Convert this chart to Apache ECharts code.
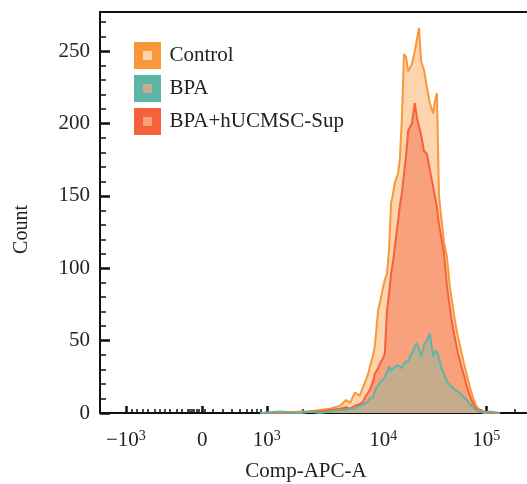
<!DOCTYPE html>
<html><head><meta charset="utf-8">
<script src="https://cdn.jsdelivr.net/npm/echarts@6/dist/echarts.min.js"></script>
<style>html,body{margin:0;padding:0;background:#fff}#c{width:527px;height:484px}</style>
</head><body><div id="c"></div>
<script>
// x positions are display channels (0-1024) of the biexponential Comp-APC-A scale
const channels = [384,432,480,504,528,552,576,590,600,611,623,631,638,643,647,655,659,667,671,679,683,688,693,698,703,707,715,719,724,729,734,739,743,748,755,760,765,770,777,784,791,799,803,808,813,818,825,832,839,844,851,858,866,873,880,887,894,902,911,923,935,959];
const controlCounts = [0,0,1,1,2,3,5,9,7,14,12,18,23,27,32,40,46,71,76,87,92,96,112,145,152,159,166,175,204,248,246,236,235,241,250,258,266,243,237,225,214,207,215,221,150,136,118,108,87,78,64,53,43,34,26,18,11,5,2,1,0,0];
const bpaCounts = [0,1,0,1,0,1,2,2,3,3,5,6,7,8,10,11,15,19,21,23,25,28,32,29,31,30,33,32,31,34,36,35,39,41,46,48,44,39,47,50,55,39,43,42,38,32,27,22,19,18,16,15,13,11,9,6,4,2,1,0,1,0];
const bpaSupCounts = [0,0,0,1,1,2,3,4,3,5,6,8,12,14,16,22,27,31,34,38,41,70,82,96,105,115,133,143,152,165,178,195,196,200,214,204,198,192,181,179,168,156,150,142,130,122,110,88,73,63,52,42,33,26,18,12,7,3,1,0,0,0];
const seriesNames = ['Control','BPA','BPA+hUCMSC-Sup'];
const xMajorTicks = [62,245,400,679,926];
const xTickBase = ['\u221210','0','10','10','10'];
const xTickExp = ['3','','3','4','5'];
const xMinorTicks = [77,89,103,115,132,144,156,168,185,197,211,216,221,226,231,236,252,271,295,317,336,352,364,376,386,487,544,578,607,628,643,657,667,753,796,827,851,870,887,902,914,995];
const yMajorTicks = [0,50,100,150,200,250];
const yMinorTicks = [10,20,30,40,60,70,80,90,110,120,130,140,160,170,180,190,210,220,230,240,260,270];

const FONT = 'Liberation Serif';
const lineColors = {'Control':'#F7993B','BPA':'#5DB5A6','BPA+hUCMSC-Sup':'#F5613B'};
const fillColors = {'Control':'#FDD4AE','BPA':'#C4AC8D','BPA+hUCMSC-Sup':'#F9A07C'};
const countsByName = {'Control':controlCounts,'BPA':bpaCounts,'BPA+hUCMSC-Sup':bpaSupCounts};
const drawOrder = ['Control','BPA+hUCMSC-Sup','BPA'];

const chart = echarts.init(document.getElementById('c'), null, {renderer:'canvas'});
const axisCol = '#111';
const X = {min:0,max:1024,type:'value',splitLine:{show:false}};
const Y = {min:0,max:277,type:'value',splitLine:{show:false}};
chart.setOption({
  animation:false,
  backgroundColor:'#fff',
  grid:{left:100,top:12,right:0,bottom:71,containLabel:false,outerBoundsMode:'none'},
  legend:{
    left:134, top:42, orient:'vertical', padding:0,
    itemWidth:18, itemHeight:18, itemGap:6,
    textStyle:{fontFamily:FONT,fontSize:21,color:'#222',lineHeight:18,padding:[0,0,0,8]},
    data:seriesNames.map(n=>({name:n,icon:'rect',itemStyle:{color:fillColors[n],borderColor:lineColors[n],borderWidth:9}}))
  },
  xAxis:[
    Object.assign({},X,{position:'bottom',name:'Comp-APC-A',nameLocation:'middle',nameGap:48,
      nameTextStyle:{fontFamily:FONT,fontSize:21,color:'#222',padding:[0,15,0,0]},
      axisLine:{show:true,onZero:false,lineStyle:{color:axisCol,width:2}},
      axisTick:{show:true,inside:true,length:7,lineStyle:{color:axisCol,width:2.5},customValues:xMajorTicks},
      axisLabel:{show:true,margin:16,customValues:xMajorTicks,
        formatter:function(v){const i=xMajorTicks.indexOf(v); if(i<0) return ''; return xTickExp[i]?'{b|'+xTickBase[i]+'}{s|'+xTickExp[i]+'}':'{b|'+xTickBase[i]+'}';},
        rich:{b:{fontFamily:FONT,fontSize:21,color:'#222',lineHeight:22,verticalAlign:'bottom'},
              s:{fontFamily:FONT,fontSize:14,color:'#222',lineHeight:14,verticalAlign:'top'}}}}),
    Object.assign({},X,{position:'bottom',axisLine:{show:false,onZero:false},
      axisTick:{show:true,inside:true,length:4,lineStyle:{color:axisCol,width:1.5},customValues:xMinorTicks},
      axisLabel:{show:false}}),
    Object.assign({},X,{position:'top',axisLine:{show:true,onZero:false,lineStyle:{color:axisCol,width:2}},
      axisTick:{show:false},axisLabel:{show:false}})
  ],
  yAxis:[
    Object.assign({},Y,{position:'left',name:'Count',nameLocation:'middle',nameGap:68,
      nameTextStyle:{fontFamily:FONT,fontSize:20,color:'#222',padding:[0,34,0,0]},
      axisLine:{show:true,onZero:false,lineStyle:{color:axisCol,width:2}},
      axisTick:{show:true,inside:true,length:10,lineStyle:{color:axisCol,width:2.5},customValues:yMajorTicks},
      axisLabel:{show:true,margin:10,customValues:yMajorTicks,fontFamily:FONT,fontSize:21,color:'#222'}}),
    Object.assign({},Y,{position:'left',axisLine:{show:false,onZero:false},
      axisTick:{show:true,inside:true,length:6,lineStyle:{color:axisCol,width:1.5},customValues:yMinorTicks},
      axisLabel:{show:false}})
  ],
  series:drawOrder.map((n,k)=>({
    name:n,type:'line',xAxisIndex:0,yAxisIndex:0,showSymbol:false,symbol:'none',z:2+k,
    data:channels.map((c,i)=>[c,countsByName[n][i]]),
    lineStyle:{color:lineColors[n],width:2},
    itemStyle:{color:lineColors[n]},
    areaStyle:{color:fillColors[n],opacity:1}
  }))
});
</script></body></html>
